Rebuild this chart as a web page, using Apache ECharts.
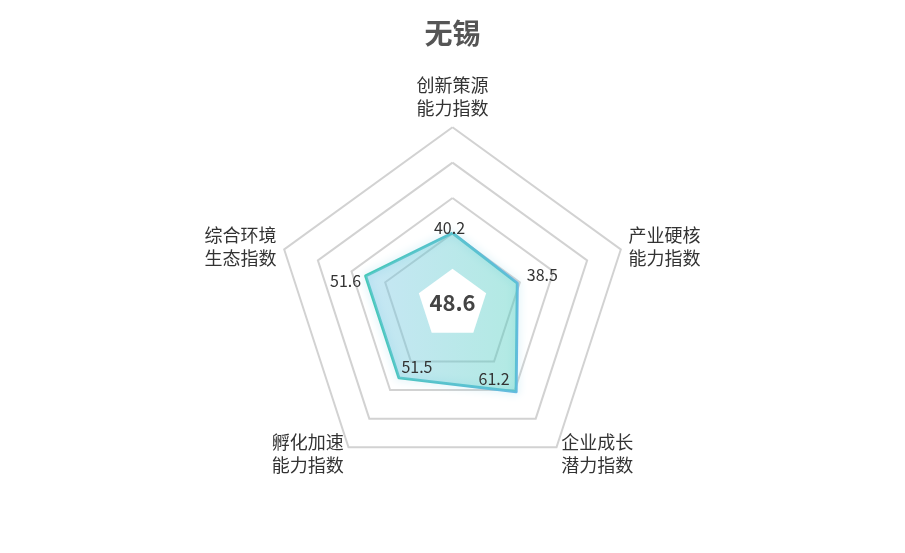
<!DOCTYPE html>
<html>
<head>
<meta charset="utf-8">
<script src="https://cdn.jsdelivr.net/npm/echarts@6/dist/echarts.min.js"></script>
<style>
  html, body { margin: 0; padding: 0; background: #fff; }
  #main { width: 905px; height: 553px; }
</style>
</head>
<body>
<div id="main"></div>
<script>
// 数据（顺时针，从正上方开始）
const cityName = '无锡';
const indicatorNames = ['创新策源\n能力指数', '产业硬核\n能力指数', '企业成长\n潜力指数', '孵化加速\n能力指数', '综合环境\n生态指数'];
const indicatorMax = [100, 100, 100, 100, 100];
const scoreValues = [40.2, 38.5, 61.2, 51.5, 51.6];
const totalScore = '48.6';
const innerHole = [20, 20, 20, 20, 20];

// 每个标签相对顶点的偏移
const labelOffsets = [[-3, -5], [25, -8], [-22, -13], [18, -11], [-20, 5]];

// echarts 雷达是逆时针排的，这里换成顺时针
const order = [0, 4, 3, 2, 1];
function clockwise(arr) {
  return order.map(function (k) { return arr[k]; });
}

const fontFamily = '"Noto Sans CJK SC", "Noto Sans", sans-serif';
const chart = echarts.init(document.getElementById('main'));

const values = clockwise(scoreValues);

// 标签单独画，每个点位置不一样
const labelSeries = scoreValues.map(function (v, i) {
  return {
    type: 'radar',
    silent: true,
    symbol: 'circle',
    symbolSize: 1,
    itemStyle: { color: 'rgba(0,0,0,0)' },
    lineStyle: { opacity: 0 },
    data: [{
      value: values,
      label: {
        show: true,
        position: 'inside',
        offset: labelOffsets[i],
        color: '#333',
        fontSize: 16,
        fontFamily: fontFamily,
        formatter: function (p) {
          return p.value === v ? String(v) : '';
        }
      }
    }]
  };
});

const option = {
  backgroundColor: '#fff',
  title: [{
    text: cityName,
    left: 'center',
    top: 14,
    textStyle: { fontSize: 28, fontWeight: 'bold', color: '#555', fontFamily: fontFamily }
  }, {
    text: totalScore,
    left: 'center',
    top: 287,
    textStyle: { fontSize: 22, fontWeight: 'bold', color: '#444', fontFamily: fontFamily }
  }],
  radar: {
    center: ['50%', '55%'],
    radius: '64%',
    splitNumber: 5,
    startAngle: 90,
    shape: 'polygon',
    indicator: clockwise(indicatorNames).map(function (n, i) {
      return { name: n, max: clockwise(indicatorMax)[i], min: 0 };
    }),
    axisName: {
      color: '#333',
      fontSize: 18,
      lineHeight: 23,
      fontFamily: fontFamily
    },
    nameGap: 8,
    axisLine: { show: false },
    axisTick: { show: false },
    axisLabel: { show: false },
    splitArea: { show: false },
    splitLine: {
      lineStyle: {
        color: ['rgba(0,0,0,0)', 'rgba(0,0,0,0)', '#d2d2d2', '#d2d2d2', '#d2d2d2', '#d2d2d2'],
        width: 2
      }
    }
  },
  series: [{
    type: 'radar',
    silent: true,
    symbol: 'none',
    lineStyle: {
      width: 3,
      color: new echarts.graphic.LinearGradient(0, 0, 1, 0, [
        { offset: 0, color: '#44c9b6' },
        { offset: 1, color: '#68b9e2' }
      ]),
      shadowColor: 'rgba(110,200,225,0.45)',
      shadowBlur: 8
    },
    areaStyle: {
      color: new echarts.graphic.LinearGradient(0, 0, 1, 0, [
        { offset: 0, color: 'rgba(125,198,230,0.62)' },
        { offset: 1, color: 'rgba(70,204,188,0.6)' }
      ])
    },
    data: [{ value: values }]
  }, {
    type: 'radar',
    silent: true,
    symbol: 'none',
    lineStyle: { width: 0, opacity: 0 },
    areaStyle: { color: '#fff', opacity: 1 },
    data: [{ value: innerHole }]
  }].concat(labelSeries)
};

chart.setOption(option);
</script>
</body>
</html>
